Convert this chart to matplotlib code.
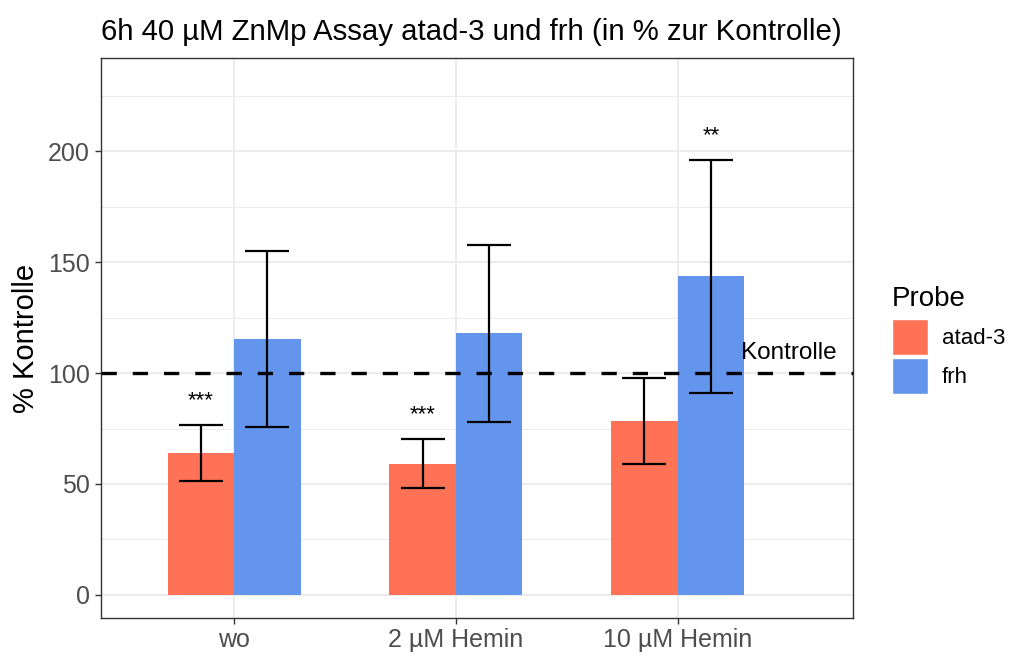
import matplotlib
matplotlib.use("Agg")
import matplotlib.pyplot as plt
from matplotlib.patches import Patch
import numpy as np

# Assay data: mean and standard deviation in % of control
groups = ["wo", "2 µM Hemin", "10 µM Hemin"]
atad3_mean = [63.9, 59.2, 78.3]
atad3_sd = [12.7, 11.1, 19.4]
frh_mean = [115.3, 117.9, 143.6]
frh_sd = [39.7, 39.8, 52.6]
atad3_sig = ["***", "***", ""]
frh_sig = ["", "", "**"]
control_level = 100

plt.rcParams["font.family"] = ["Liberation Sans", "DejaVu Sans"]
plt.rcParams["lines.scale_dashes"] = False

atad3_color = "#FF7256"  # coral1
frh_color = "#6495ED"    # cornflowerblue
grid_color = "#EBEBEB"
text_grey = "#4D4D4D"

fig = plt.figure(figsize=(10.1, 6.57), dpi=100)
ax = fig.add_axes([101 / 1010, 1 - 618 / 657, (853 - 101) / 1010, (618 - 58) / 657])

x = np.arange(1, len(groups) + 1)
bar_w = 0.3

# grid lines like theme_bw
ax.set_axisbelow(True)
ax.set_yticks(np.arange(0, 201, 50))
ax.set_yticks(np.arange(25, 226, 50), minor=True)
ax.grid(which="major", axis="both", color=grid_color, lw=1.3)
ax.grid(which="minor", axis="y", color=grid_color, lw=0.7)
ax.tick_params(which="minor", length=0)

# bars
ax.bar(x - bar_w / 2, atad3_mean, width=bar_w, color=atad3_color, label="atad-3")
ax.bar(x + bar_w / 2, frh_mean, width=bar_w, color=frh_color, label="frh")

# control reference line
ax.axhline(control_level, color="black", lw=2.4, dashes=(11, 11.5), zorder=3)
ax.text(3.5, 109, "Kontrolle", ha="center", va="center", fontsize=17.5)

# error bars
ax.errorbar(x - bar_w / 2, atad3_mean, yerr=atad3_sd, fmt="none", ecolor="black",
            elinewidth=1.6, capsize=16, capthick=1.6, zorder=4)
ax.errorbar(x + bar_w / 2, frh_mean, yerr=frh_sd, fmt="none", ecolor="black",
            elinewidth=1.6, capsize=16, capthick=1.6, zorder=4)

# significance stars above the error bars
for xi, m, s, lab in zip(x - bar_w / 2, atad3_mean, atad3_sd, atad3_sig):
    if lab:
        ax.text(xi, m + s + 11, lab, ha="center", va="center", fontsize=16)
for xi, m, s, lab in zip(x + bar_w / 2, frh_mean, frh_sd, frh_sig):
    if lab:
        ax.text(xi, m + s + 11, lab, ha="center", va="center", fontsize=16)

ax.set_xlim(0.4, 3.79)
ax.set_ylim(-10.4, 242)
ax.set_xticks(x)
ax.set_xticklabels(groups)
ax.tick_params(axis="both", which="major", labelsize=18, labelcolor=text_grey,
               color="#333333", length=4.5, width=1)
ax.tick_params(axis="x", pad=3)

for sp in ax.spines.values():
    sp.set_color("#333333")
    sp.set_linewidth(1)

ax.set_ylabel("% Kontrolle", fontsize=21, labelpad=6)
ax.set_title("6h 40 µM ZnMp Assay atad-3 und frh (in % zur Kontrolle)",
             fontsize=21.2, loc="left", x=0.0, pad=13)

handles = [Patch(facecolor=atad3_color, edgecolor="white", lw=1, label="atad-3"),
           Patch(facecolor=frh_color, edgecolor="white", lw=1, label="frh")]
leg = fig.legend(handles=handles, title="Probe", loc="upper left",
                 bbox_to_anchor=(881 / 1010, 1 - 275 / 657), frameon=False,
                 fontsize=16, title_fontsize=20, handlelength=1.62,
                 handleheight=2.12, handletextpad=0.63, labelspacing=0.14,
                 alignment="left", borderpad=0)
# extra room between the legend title and the keys
leg._legend_box.sep = 5

fig.savefig("out.png", dpi=100)
